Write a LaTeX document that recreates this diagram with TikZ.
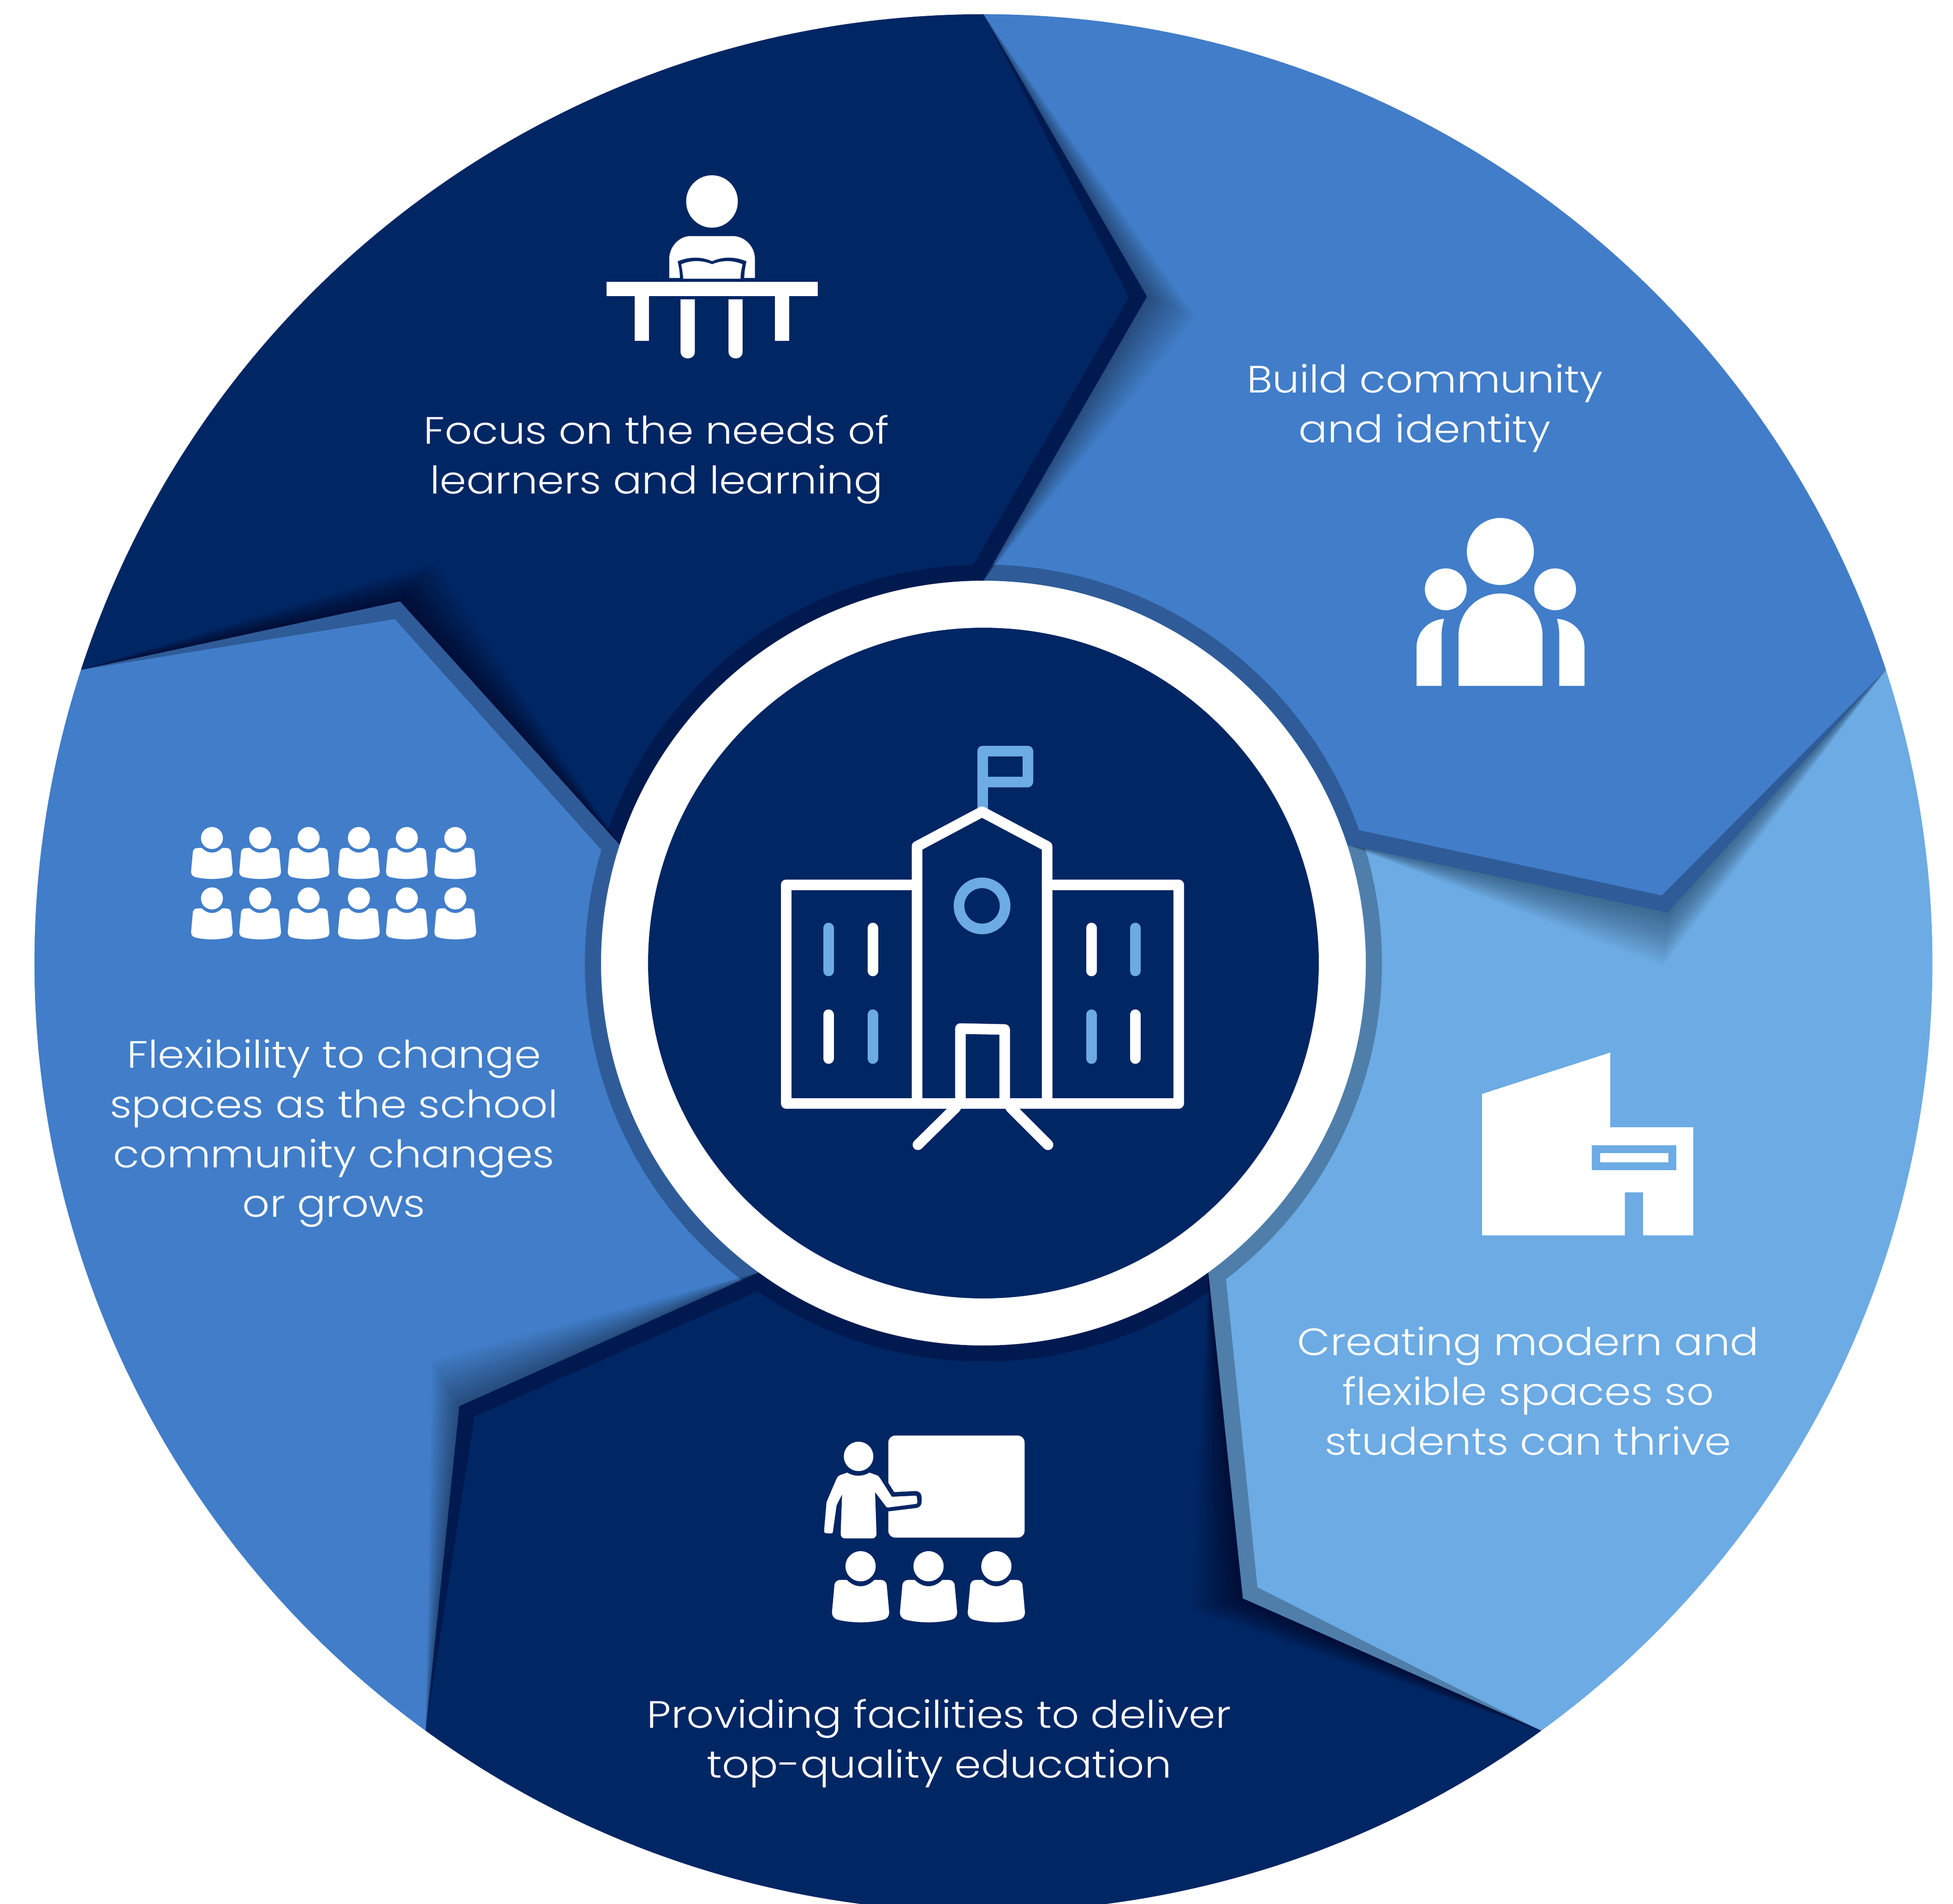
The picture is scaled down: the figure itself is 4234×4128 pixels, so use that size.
\documentclass[tikz,border=0pt]{standalone}
\usepackage{fontspec}
\setmainfont[UprightFont=* Light,FakeStretch=1.12]{Poppins}
\definecolor{navy}{HTML}{002664}
\definecolor{navyd}{HTML}{001A50}
\definecolor{midb}{HTML}{417DC9}
\definecolor{midd}{HTML}{2F5C98}
\definecolor{lite}{HTML}{6CABE4}
\definecolor{lited}{HTML}{4F7EAA}
\tikzset{
  lab/.style={text=white,inner sep=0pt,align=center,font=\fontsize{23.5}{30.7}\selectfont},
  schoolw/.style={draw=white,line width=0.23cm,line join=round,line cap=round},
  schooll/.style={draw=lite,line width=0.23cm,line join=round,line cap=round},
}
\newcommand{\regionpath}{(162:2057) arc[start angle=162,end angle=90,radius=2057] -- (76.2:1488) -- (90:829) arc[start angle=90,end angle=162,radius=829] -- (148.2:1488) -- cycle}
\newcommand{\seatperson}[3]{%
  \fill[white,shift={(#1,-#2)},xscale=#3,yscale=-#3]
    (0,32.7) circle[radius=32.7]
    (-30,62.3) .. controls (-20,72) and (-10,76) .. (0,76) .. controls (10,76) and (20,72) .. (30,62.3) -- (43,62.3)
    .. controls (52,62.3) and (57,68) .. (57,77) -- (62,132) .. controls (62,141) and (57,147) .. (50,148.5)
    .. controls (35,152.5) and (15,154.3) .. (0,154.3) .. controls (-15,154.3) and (-35,152.5) .. (-50,148.5)
    .. controls (-57,147) and (-62,141) .. (-62,132) -- (-57,77) .. controls (-57,68) and (-52,62.3) .. (-43,62.3) -- cycle;}
\begin{document}
\begin{tikzpicture}[x=0.01cm,y=0.01cm]
\useasboundingbox (0,0) rectangle (4234,-4128);
\fill[white] (0,0) rectangle (4234,-4128);
\clip (0,0) rectangle (4234,-4128);
\fill[midb] (2132,-2088) circle[radius=2056];
\foreach \i/\cl/\cd in {0/navy/navyd,1/midb/midd,2/lite/lited,3/navy/navyd,4/midb/midd}{
  \begin{scope}[shift={(2132,-2088)},rotate=-72*\i]
    \clip \regionpath;
    \fill[\cd] (0,0) circle[radius=2100];
    \fill[\cl] (90:2057) -- (77.7:1478) -- (91.5:864)
       arc[start angle=91.5,end angle=175,radius=864] -- (175:3000) -- (90:3000) -- cycle;
    \foreach \k in {1,...,24}{
      \pgfmathsetmacro\ta{148.2-4.45*\k/24}
      \pgfmathsetmacro\tr{1488-15*\k/24}
      \fill[black,opacity=.016] (162:2057) -- (\ta:\tr) -- (162:829) -- cycle;
    }
  \end{scope}
}
% centre
\fill[white] (2132,-2088) circle[radius=829];
\fill[navy] (2132,-2088) circle[radius=727];
% school
\draw[schooll] (2130,-1760) -- (2130,-1628) -- (2228,-1628) -- (2228,-1695) -- (2130,-1695);
\draw[schooll] (2129,-1964) circle[radius=50];
\draw[schoolw] (1988,-1918) -- (1704,-1918) -- (1704,-2392) -- (2555,-2392) -- (2555,-1918) -- (2270,-1918);
\draw[schoolw] (1988,-2392) -- (1988,-1835) -- (2129,-1760) -- (2270,-1835) -- (2270,-2392);
\draw[schoolw] (2082,-2392) -- (2082,-2230) -- (2178,-2232) -- (2178,-2392);
\draw[schoolw] (2072,-2401) -- (1990,-2482);
\draw[schoolw] (2191,-2401) -- (2272,-2482);
\draw[schooll] (1796,-2012) -- (1796,-2105);
\draw[schoolw] (1892,-2012) -- (1892,-2105);
\draw[schoolw] (1796,-2200) -- (1796,-2295);
\draw[schooll] (1892,-2200) -- (1892,-2295);
\draw[schoolw] (2366,-2012) -- (2366,-2105);
\draw[schooll] (2461,-2012) -- (2461,-2105);
\draw[schooll] (2366,-2200) -- (2366,-2295);
\draw[schoolw] (2461,-2200) -- (2461,-2295);
% student at desk
\begin{scope}[shift={(1200,-300)},xscale=1/2.24,yscale=-1/2.851]
  \fill[white] (769.5,390) ellipse[x radius=125.5,y radius=162];
  \fill[white] (562,863) -- (562,745) .. controls (562,670) and (610,604) .. (665,604) -- (870,604)
     .. controls (930,604) and (978,670) .. (978,745) -- (978,863) -- cycle;
  \fill[navy] (603,760) .. controls (660,730) and (720,730) .. (770,760) .. controls (820,730) and (880,730) .. (937,760)
     .. controls (930,800) and (926,830) .. (926,870) -- (614,870) .. controls (614,830) and (610,800) .. (603,760) -- cycle;
  \fill[white] (620,778) .. controls (670,752) and (720,752) .. (770,778) .. controls (820,752) and (870,752) .. (918,778)
     .. controls (912,810) and (908,840) .. (908,868) -- (630,868) .. controls (628,840) and (625,810) .. (620,778) -- cycle;
  \fill[white] (258,887) rectangle (1284,975);
  \fill[white] (394,975) rectangle (464,1252);
  \fill[white] (1075,975) rectangle (1145,1252);
  \fill[white] (617,995) -- (617,1320) .. controls (617,1345) and (635,1360) .. (652,1360) .. controls (670,1360) and (686,1345) .. (686,1320) -- (686,995) -- cycle;
  \fill[white] (850,995) -- (850,1320) .. controls (850,1345) and (868,1360) .. (885,1360) .. controls (903,1360) and (918,1345) .. (918,1320) -- (918,995) -- cycle;
\end{scope}
% community
\begin{scope}[shift={(3000,-1100)},xscale=1/3,yscale=-1/3]
  \fill[white] (758,287) circle[radius=218] (403,533) circle[radius=136] (1114,533) circle[radius=136];
  \fill[white] (486,1161) -- (486,833) arc[start angle=180,end angle=360,radius=273] -- (1032,1161) -- cycle;
  \fill[white] (213,1161) -- (213,910) .. controls (213,810) and (290,732) .. (392,725) .. controls (382,760) and (376,795) .. (376,830) -- (376,1161) -- cycle;
  \fill[white] (1305,1161) -- (1305,910) .. controls (1305,810) and (1228,732) .. (1126,725) .. controls (1136,760) and (1141,795) .. (1141,830) -- (1141,1161) -- cycle;
\end{scope}
% building
\begin{scope}[shift={(3150,-2250)},xscale=1/2.851,yscale=-1/3]
  \fill[white] (180,365) -- (972,96) -- (972,582) -- (1485,582) -- (1485,1285) -- (1175,1285) -- (1175,1005) -- (1062,1005) -- (1062,1285) -- (180,1285) -- cycle;
  \fill[lite] (859,699) rectangle (1381,860);
  \fill[white] (908,749) rectangle (1331,810);
\end{scope}
% teacher
\begin{scope}[shift={(1700,-3050)},xscale=1/2.613,yscale=-1/3]
  \fill[white,rounded corners=4.3pt] (590,187) rectangle (1362,851);
  \fill[navy] (585,495) -- (590,495) -- (623,555) -- (743,548) .. controls (765,548) and (778,565) .. (778,585) -- (778,620)
     .. controls (778,642) and (765,655) .. (750,658) -- (590,680) -- (585,680) -- cycle;
  \fill[white] (421.5,322.5) ellipse[x radius=83.5,y radius=95.5];
  \fill[white] (358,428) .. controls (395,455) and (445,455) .. (483,428) -- (525,445) .. controls (535,450) and (540,458) .. (545,468)
     -- (610,585) -- (743,578) .. controls (750,578) and (752,582) .. (752,590) -- (755,620) .. controls (755,628) and (750,632) .. (745,632)
     -- (590,655) .. controls (585,656) and (582,655) .. (578,650) -- (515,555) -- (523,825) .. controls (523,845) and (512,856) .. (498,856)
     -- (345,856) .. controls (330,856) and (320,845) .. (320,825) -- (328,570) -- (297,640) -- (276,812) .. controls (275,822) and (270,825) .. (262,824)
     -- (235,822) .. controls (228,820) and (226,815) .. (226,808) -- (240,620) -- (296,470) .. controls (300,455) and (310,447) .. (322,442) -- cycle;
\end{scope}
\seatperson{1865.7}{3363}{1}
\seatperson{2013}{3363}{1}
\seatperson{2160}{3363}{1}
% class
\foreach \px in {459.5,564,669,778,882,987}{
  \seatperson{\px}{1793}{0.73}
  \seatperson{\px}{1924}{0.73}
}
% labels
\node[lab] (focus) at (1423,-996) {Focus on the needs of\\learners and learning};
\node[lab] (build) at (3089,-885) {Build community\\and identity};
\node[lab] (create) at (3313,-3016) {Creating modern and\\flexible spaces so\\students can thrive};
\node[lab] (provide) at (2036,-3780) {Providing facilities to deliver\\top-quality education};
\node[lab] (flex) at (724,-2457) {Flexibility to change\\spaces as the school\\community changes\\or grows};
\end{tikzpicture}
\end{document}
